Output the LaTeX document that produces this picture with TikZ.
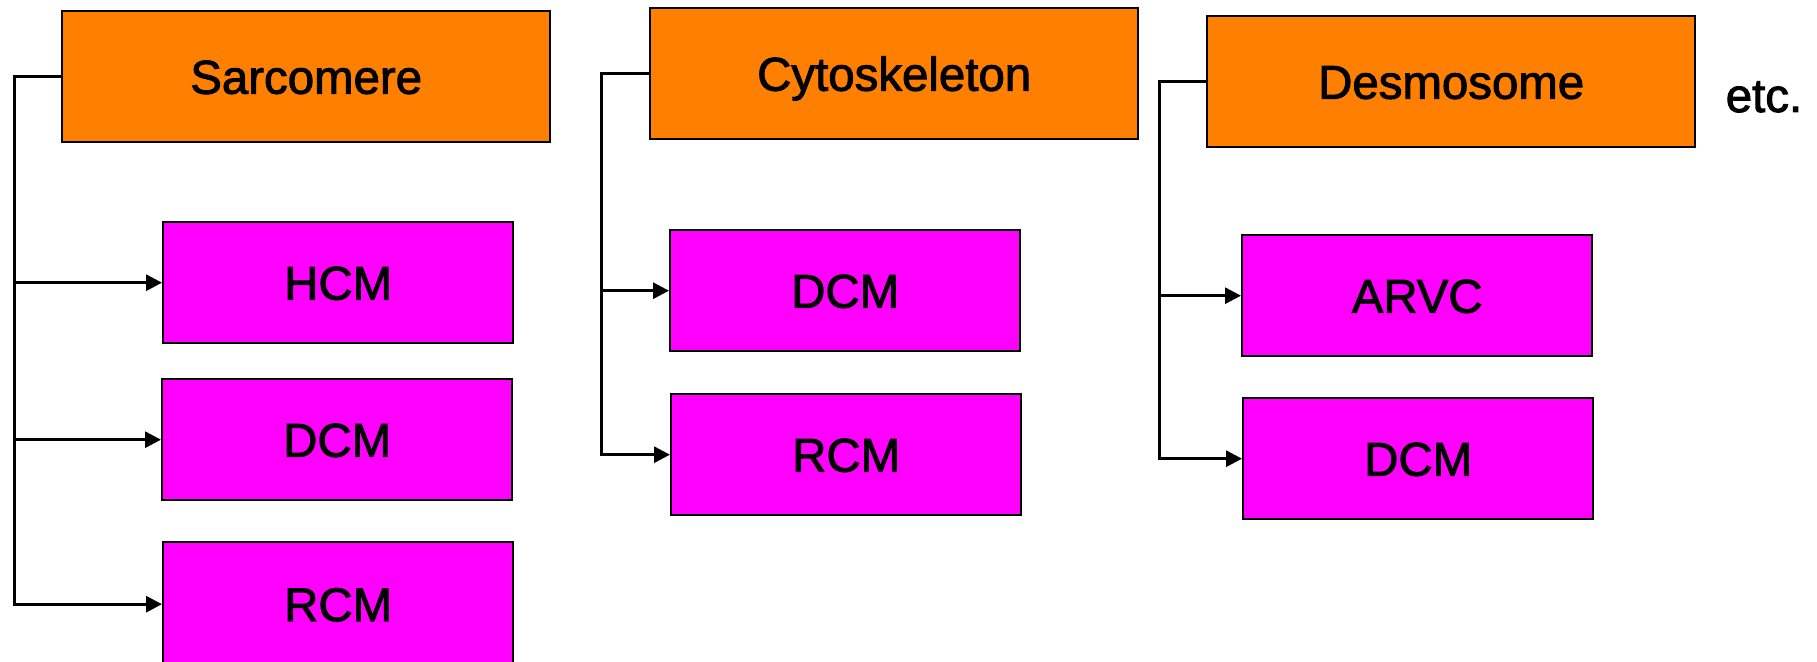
\documentclass[tikz,border=0pt]{standalone}
\usepackage{fontspec}
\setmainfont{Liberation Sans}
\usetikzlibrary{arrows.meta}
\definecolor{boxorange}{HTML}{FF8000}
\definecolor{boxmagenta}{HTML}{FF00FF}
\begin{document}
\begin{tikzpicture}[x=0.5pt,y=-0.5pt,
  txt/.style={font=\fontsize{23.7}{28}\selectfont\addfontfeature{FakeBold=2},text height=17pt,text depth=0pt},
  groupbox/.style={txt,draw=black,line width=1.2pt,fill=boxorange,minimum width=244pt,minimum height=65.5pt,inner sep=0pt,anchor=north west},
  diseasebox/.style={txt,draw=black,line width=1.2pt,fill=boxmagenta,minimum width=175pt,minimum height=60.5pt,inner sep=0pt,anchor=north west},
  conn/.style={draw=black,line width=1.5pt,-{Triangle[length=8pt,width=8pt]}}]
\useasboundingbox (0,0) rectangle (1817,662);
% groups
\node[groupbox] (sarc) at (61,10) {Sarcomere};
\node[groupbox] (cyto) at (649,7) {Cytoskeleton};
\node[groupbox] (desmo) at (1206,15) {Desmosome};
\node[txt] (etc) at (1764,95) {etc.};
% diseases
\node[diseasebox] (hcm) at (162,221) {HCM};
\node[diseasebox,minimum height=62pt] (rcmA) at (162,541) {RCM};
\node[diseasebox] (dcmA) at (161,378) {DCM};
\node[diseasebox] (dcmB) at (669,229) {DCM};
\node[diseasebox] (rcmB) at (670,393) {RCM};
\node[diseasebox] (arvc) at (1241,234) {ARVC};
\node[diseasebox] (dcmC) at (1242,397) {DCM};
% connectors
\draw[conn] (sarc.west) -- ++(-47,0) |- (hcm.west);
\draw[conn] (sarc.west) -- ++(-47,0) |- (dcmA.west);
\draw[conn] (sarc.west) -- ++(-47,0) |- (rcmA.west);
\draw[conn] (cyto.west) -- ++(-48,0) |- (dcmB.west);
\draw[conn] (cyto.west) -- ++(-48,0) |- (rcmB.west);
\draw[conn] (desmo.west) -- ++(-47,0) |- (arvc.west);
\draw[conn] (desmo.west) -- ++(-47,0) |- (dcmC.west);
\end{tikzpicture}
\end{document}
